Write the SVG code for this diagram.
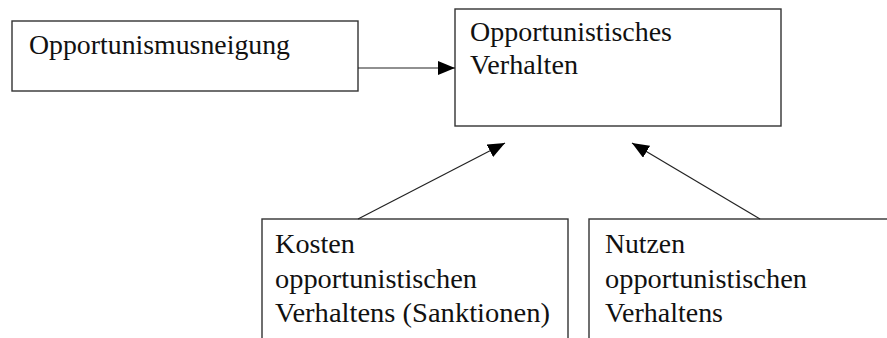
<svg xmlns="http://www.w3.org/2000/svg" width="887" height="338" viewBox="0 0 887 338">
<style>
.box{fill:#fff;stroke:#333;stroke-width:1.4}
.t{font-size:27px;fill:#111}
.c{stroke:#222;stroke-width:1.2;fill:none}
</style>
<defs>
<marker id="ah" viewBox="0 0 17 14" refX="17" refY="7" markerWidth="17" markerHeight="14" markerUnits="userSpaceOnUse" orient="auto">
<path d="M0,0 L17,7 L0,14 Z" fill="#000"/>
</marker>
</defs>
<rect width="887" height="338" fill="#fff"/>
<g font-family="Liberation Serif, DejaVu Serif, Times New Roman, serif">
<g id="n1">
<rect class="box" x="12" y="21" width="346" height="70"/>
<text class="t" x="29" y="54" textLength="261" lengthAdjust="spacingAndGlyphs">Opportunismusneigung</text>
</g>
<g id="n2">
<rect class="box" x="455" y="9" width="326" height="117"/>
<text class="t" x="470" y="41" textLength="202" lengthAdjust="spacingAndGlyphs">Opportunistisches</text>
<text class="t" x="470" y="74" textLength="108" lengthAdjust="spacingAndGlyphs">Verhalten</text>
</g>
<g id="n3">
<rect class="box" x="262" y="219" width="306" height="140"/>
<text class="t" x="275" y="253" textLength="80" lengthAdjust="spacingAndGlyphs">Kosten</text>
<text class="t" x="275" y="288" textLength="202" lengthAdjust="spacingAndGlyphs">opportunistischen</text>
<text class="t" x="275" y="322" textLength="275" lengthAdjust="spacingAndGlyphs">Verhaltens (Sanktionen)</text>
</g>
<g id="n4">
<rect class="box" x="589" y="219" width="320" height="140"/>
<text class="t" x="605" y="253" textLength="80" lengthAdjust="spacingAndGlyphs">Nutzen</text>
<text class="t" x="605" y="288" textLength="202" lengthAdjust="spacingAndGlyphs">opportunistischen</text>
<text class="t" x="605" y="322" textLength="118" lengthAdjust="spacingAndGlyphs">Verhaltens</text>
</g>
</g>
<g id="connectors">
<line class="c" x1="358" y1="68" x2="455" y2="68" marker-end="url(#ah)"/>
<line class="c" x1="358" y1="219" x2="505" y2="143" marker-end="url(#ah)"/>
<line class="c" x1="760" y1="219" x2="632" y2="143" marker-end="url(#ah)"/>
</g>
</svg>
